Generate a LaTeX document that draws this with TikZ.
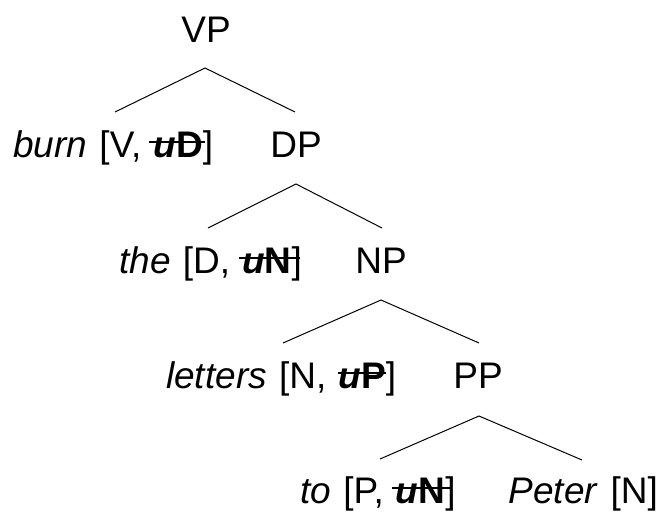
\documentclass[tikz,border=0pt]{standalone}
\usepackage{fontspec}
\setmainfont{Liberation Sans}
\newcommand\strk[3]{\leavevmode\setbox0\hbox{#3}\rlap{\kern-#1\rule[0.38em]{\dimexpr\wd0+#1+#2\relax}{0.055em}}\box0}
\newcommand\widespaces{\spaceskip=0.33em\relax}
\begin{document}
\begin{tikzpicture}[x=1pt,y=-1pt,
  lbl/.style={anchor=base west, inner sep=0pt, font=\fontsize{37}{44}\selectfont, execute at begin node=\widespaces},
  cat/.style={anchor=base, inner sep=0pt, font=\fontsize{37}{44}\selectfont},
  branch/.style={line width=1pt}]
\useasboundingbox (0,0) rectangle (660,511);
% labels
\node[cat] (vp) at (206,42) {VP};
\node[lbl] (burn) at (13,157) {\textit{burn} [V, \strk{0.12em}{0.06em}{\textbf{\textit{u}D}}]};
\node[cat] (dp) at (296,157) {DP};
\node[lbl] (the) at (119,273) {\textit{the} [D, \strk{0.08em}{0.22em}{\textbf{\textit{u}N}}]};
\node[cat] (np) at (381,273) {NP};
\node[lbl] (letters) at (166,388) {\textit{letters} [N, \strk{0.02em}{0em}{\textbf{\textit{u}P}}]};
\node[cat] (pp) at (478,388) {PP};
\node[lbl] (to) at (300,503) {\textit{to} [P, \strk{0.1em}{0.14em}{\textbf{\textit{u}N}}]};
\node[lbl, anchor=base east] (peter) at (658,503) {\textit{Peter} [N]};
% branch points
\coordinate (vpa) at (205,68);
\coordinate (vpl) at (115,112);
\coordinate (vpr) at (295,112);
\coordinate (dpa) at (296,184);
\coordinate (dpl) at (208,228);
\coordinate (dpr) at (382,228);
\coordinate (npa) at (381,300);
\coordinate (npl) at (283,343);
\coordinate (npr) at (479,343);
\coordinate (ppa) at (479,416);
\coordinate (ppl) at (380,459);
\coordinate (ppr) at (582,460);
\draw[branch] (vpl) -- (vpa) -- (vpr);
\draw[branch] (dpl) -- (dpa) -- (dpr);
\draw[branch] (npl) -- (npa) -- (npr);
\draw[branch] (ppl) -- (ppa) -- (ppr);
\end{tikzpicture}
\end{document}
